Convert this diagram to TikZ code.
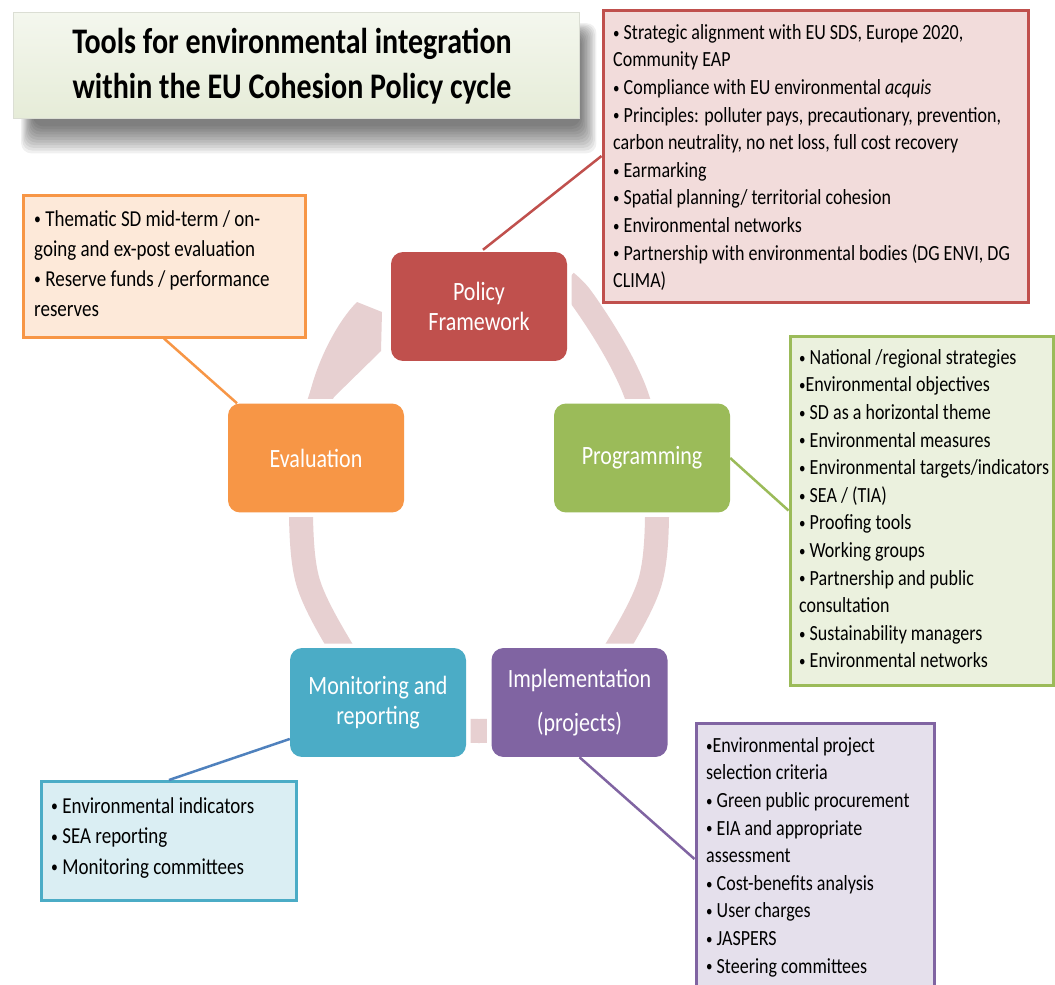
\documentclass[tikz,border=0pt]{standalone}
\usepackage{fontspec}
\setmainfont{Carlito}
\definecolor{polc}{HTML}{C0504D}
\definecolor{polbg}{HTML}{F2DCDB}
\definecolor{proc}{HTML}{9BBB59}
\definecolor{probg}{HTML}{EBF1DE}
\definecolor{impc}{HTML}{8064A2}
\definecolor{impbg}{HTML}{E5E0EC}
\definecolor{monc}{HTML}{4BACC6}
\definecolor{monbg}{HTML}{DAEEF3}
\definecolor{monline}{HTML}{4F81BD}
\definecolor{evac}{HTML}{F79646}
\definecolor{evabg}{HTML}{FDE9D9}
\definecolor{ringc}{HTML}{E7D0D1}
\definecolor{titletop}{HTML}{F4F7EE}
\definecolor{titlebot}{HTML}{E6ECD8}
% small raised bullet
\newcommand\bul{\raisebox{0.12ex}{\scalebox{0.72}{•}}}
\begin{document}
\begin{tikzpicture}[x=1pt,y=-1pt,
  cyc/.style={rectangle, rounded corners=12pt, minimum width=176pt,
    minimum height=90.8pt, inner sep=0pt, text=white, align=center,
    yscale=1.2, transform shape, font=\fontsize{22}{25}\selectfont,
    preaction={draw=white, line width=9pt}},
  cbox/.style={rectangle, draw, line width=3pt, inner sep=0pt},
  txt/.style={anchor=north west, inner sep=0pt, align=left,
    yscale=1.2, transform shape, font=\fontsize{18}{23}\selectfont},
  link/.style={line width=2.5pt},
  ring/.style={draw=ringc, line width=24pt}]
\useasboundingbox (0,0) rectangle (1055,985);
\fill[white] (0,0) rectangle (1055,985);

% soft shadow under the title plate
\foreach \i in {1,...,11}{
  \fill[black, opacity=0.06, rounded corners=10pt]
    (20+\i*1.2, 22+\i*1.2) rectangle (598-\i*1.6, 156-\i*2.7);
}
\node (titlebox) [rectangle, minimum width=566pt, minimum height=106pt,
  top color=titletop, bottom color=titlebot, draw=titlebot!85!black!60,
  line width=0.6pt] at (296,65) {};
\node (title) [align=center, yscale=1.2, transform shape,
  font=\bfseries\fontsize{30}{37.5}\selectfont]
  at (292,66) {Tools for environmental integration\\within the EU Cohesion Policy cycle};

% cycle ring behind the stage boxes
\draw[ring] plot[smooth, tension=0.55] coordinates {
  (566,282) (580,296) (603,330) (623,365) (638,400) (652,455) (657,517)
  (650,582) (620,643) (585,692) (538,722) (479,731) (420,722) (373,692)
  (338,643) (308,582) (301,517) (305,455) (320,400) (333,368) (343,350)};
\fill[ringc] (309,398) .. controls (314,370) and (334,325) .. (357,302)
  -- (382,312) -- (381,351) -- (333,398) -- cycle;

% stages of the cycle
\node (policy) [cyc, fill=polc] at (479,306.5) {Policy\\Framework};
\node (programming) [cyc, fill=proc] at (642,458) {Programming};
\node (implementation) [cyc, fill=impc, font=\fontsize{22}{36.7}\selectfont]
  at (579.5,702.5) {Implementation\\(projects)};
\node (monitoring) [cyc, fill=monc] at (378,702.5) {Monitoring and\\reporting};
\node (evaluation) [cyc, fill=evac] at (316,458) {Evaluation};

% tool boxes
\node (redbox) [cbox, draw=polc, fill=polbg, minimum width=425pt,
  minimum height=292pt] at (815.5,156) {};
\node (redtxt) [txt] at (613,19.7) {\strut\bul{} Strategic alignment with EU SDS, Europe 2020,\\
Community EAP\\
\bul{} Compliance with EU environmental \textit{acquis}\\
\bul{} Principles: polluter pays, precautionary, prevention,\\
carbon neutrality, no net loss, full cost recovery\\
\bul{} Earmarking\\
\bul{} Spatial planning/ territorial cohesion\\
\bul{} Environmental networks\\
\bul{} Partnership with environmental bodies (DG ENVI, DG\\
CLIMA)};

\node (greenbox) [cbox, draw=proc, fill=probg, minimum width=263.5pt,
  minimum height=349pt] at (921.75,510.5) {};
\node (greentxt) [txt] at (799,344.7) {\strut\bul{} National /regional strategies\\
\bul{}Environmental objectives\\
\bul{} SD as a horizontal theme\\
\bul{} Environmental measures\\
\bul{} Environmental targets/indicators\\
\bul{} SEA / (TIA)\\
\bul{} Proofing tools\\
\bul{} Working groups\\
\bul{} Partnership and public\\
consultation\\
\bul{} Sustainability managers\\
\bul{} Environmental networks};

\node (purplebox) [cbox, draw=impc, fill=impbg, minimum width=238pt,
  minimum height=272pt] at (815,859) {};
\node (purpletxt) [txt] at (706,732.7) {\strut\bul{}Environmental project\\
selection criteria\\
\bul{} Green public procurement\\
\bul{} EIA and appropriate\\
assessment\\
\bul{} Cost-benefits analysis\\
\bul{} User charges\\
\bul{} JASPERS\\
\bul{} Steering committees};

\node (bluebox) [cbox, draw=monc, fill=monbg, minimum width=255pt,
  minimum height=119pt] at (169,841) {};
\node (bluetxt) [txt, font=\fontsize{19}{25.4}\selectfont] at (51,791.7)
  {\strut\bul{} Environmental indicators\\
\bul{} SEA reporting\\
\bul{} Monitoring committees};

\node (orangebox) [cbox, draw=evac, fill=evabg, minimum width=282pt,
  minimum height=142pt] at (164,266) {};
\node (orangetxt) [txt, font=\fontsize{19}{25}\selectfont] at (34,205)
  {\strut\bul{} Thematic SD mid-term / on-\\
going and ex-post evaluation\\
\bul{} Reserve funds / performance\\
reserves};

% links from stages to their tool boxes
\draw[link, draw=polc] (policy.north) ++(4,-2) -- (redbox.west);
\draw[link, draw=proc] (programming.east) -- (greenbox.west);
\draw[link, draw=impc] (implementation.south) -- (purplebox.west);
\draw[link, draw=monline] (monitoring.199) -- (bluebox.north);
\draw[link, draw=evac] (evaluation.150) -- (orangebox.south);
\end{tikzpicture}
\end{document}
